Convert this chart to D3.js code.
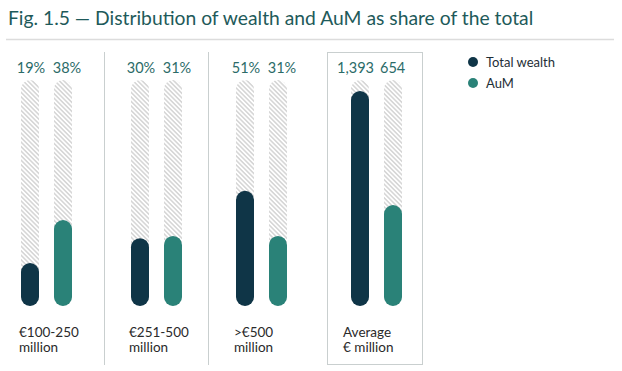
<!DOCTYPE html>
<html>
<head>
<meta charset="utf-8">
<script src="https://cdn.jsdelivr.net/npm/d3@7"></script>
<style>
  body { margin: 0; background: #fff; }
  svg { font-family: Lato, "Open Sans", sans-serif; }
</style>
</head>
<body>
<div id="chart"></div>
<script>
// chart data
const groups = ["€100-250|million", "€251-500|million", ">€500|million", "Average|€ million"];
const series = ["Total wealth", "AuM"];
const totalWealth = [19, 30, 51, 1393];
const aum = [38, 31, 31, 654];
const valueLabels = [["19%", "38%"], ["30%", "31%"], ["51%", "31%"], ["1,393", "654"]];

const width = 622, height = 371;
const colors = {"Total wealth": "#0f3547", "AuM": "#2a8278"};

let svg = d3.select("#chart").append("svg")
    .attr("width", width).attr("height", height);

// hatch pattern for the background "100%" bars
let defs = svg.append("defs");
let pat = defs.append("pattern")
    .attr("id", "hatch")
    .attr("patternUnits", "userSpaceOnUse")
    .attr("width", 3.2).attr("height", 3.2)
    .attr("patternTransform", "rotate(-45)");
pat.append("rect").attr("width", 3.2).attr("height", 3.2).attr("fill", "#fff");
pat.append("line").attr("x1", 0.8).attr("y1", 0).attr("x2", 0.8).attr("y2", 3.2)
    .attr("stroke", "#d2d2d2").attr("stroke-width", 1.4);

// title + rule
svg.append("text")
    .attr("x", 8).attr("y", 25)
    .attr("font-size", 19.3)
    .attr("fill", "#1e5a5a")
    .text("Fig. 1.5 — Distribution of wealth and AuM as share of the total");

svg.append("line")
    .attr("x1", 6).attr("x2", 614).attr("y1", 39.5).attr("y2", 39.5)
    .attr("stroke", "#dcdcdc").attr("stroke-width", 1.5);

// layout
const groupOffset = [0, 110, 215, 330];
const barX = d3.scalePoint().domain(series).range([30, 63]);
const barW = 18;
const yBottom = 306, yTop = 80;

const yPct = d3.scaleLinear().domain([0, 100]).range([yBottom, yTop]);
const yAvg = d3.scaleLinear().domain([0, 1465]).range([yBottom, yTop]);

// separators and box around averages
[104, 208].forEach(x => {
    svg.append("line")
        .attr("x1", x + 0.5).attr("x2", x + 0.5).attr("y1", 52).attr("y2", 365)
        .attr("stroke", "#c9cfcf").attr("stroke-width", 1);
});
svg.append("rect")
    .attr("x", 327.5).attr("y", 52.5).attr("width", 95).attr("height", 312)
    .attr("fill", "none").attr("stroke", "#c9cfcf").attr("stroke-width", 1);

groups.forEach((g, i) => {
    let isAvg = i === 3;
    let y = isAvg ? yAvg : yPct;
    let gg = svg.append("g").attr("transform", `translate(${groupOffset[i]},0)`);
    let vals = [totalWealth[i], aum[i]];

    series.forEach((s, j) => {
        let cx = barX(s);
        gg.append("rect")
            .attr("x", cx - barW / 2).attr("y", yTop)
            .attr("width", barW).attr("height", yBottom - yTop)
            .attr("rx", barW / 2)
            .attr("fill", "url(#hatch)");
        gg.append("rect")
            .attr("x", cx - barW / 2).attr("y", y(vals[j]))
            .attr("width", barW).attr("height", yBottom - y(vals[j]))
            .attr("rx", barW / 2)
            .attr("fill", colors[s]);

        // value labels sit a bit off the bar centres
        let lbl = gg.append("text")
            .attr("y", 73)
            .attr("font-size", 14.5)
            .attr("fill", "#2b6b68")
            .text(valueLabels[i][j]);
        if (isAvg) {
            lbl.attr("x", j === 0 ? cx + 14 : cx - 13)
               .attr("text-anchor", j === 0 ? "end" : "start");
        } else {
            lbl.attr("x", cx + (j === 0 ? 1 : 4)).attr("text-anchor", "middle");
        }
    });

    let lines = g.split("|");
    let lx = isAvg ? 13 : barX(series[0]) - barW / 2 - 2;
    lines.forEach((t, k) => {
        gg.append("text")
            .attr("x", lx).attr("y", 337 + k * 14.5)
            .attr("font-size", 13.5)
            .attr("fill", "#2a2a2a")
            .text(t);
    });
});

// legend
let legend = svg.append("g").attr("transform", "translate(473,62)");
series.forEach((s, j) => {
    legend.append("circle").attr("cx", 0).attr("cy", j * 21).attr("r", 5)
        .attr("fill", colors[s]);
    legend.append("text").attr("x", 13).attr("y", j * 21 + 4.5)
        .attr("font-size", 13).attr("fill", "#1e2e36").text(s);
});
</script>
</body>
</html>
